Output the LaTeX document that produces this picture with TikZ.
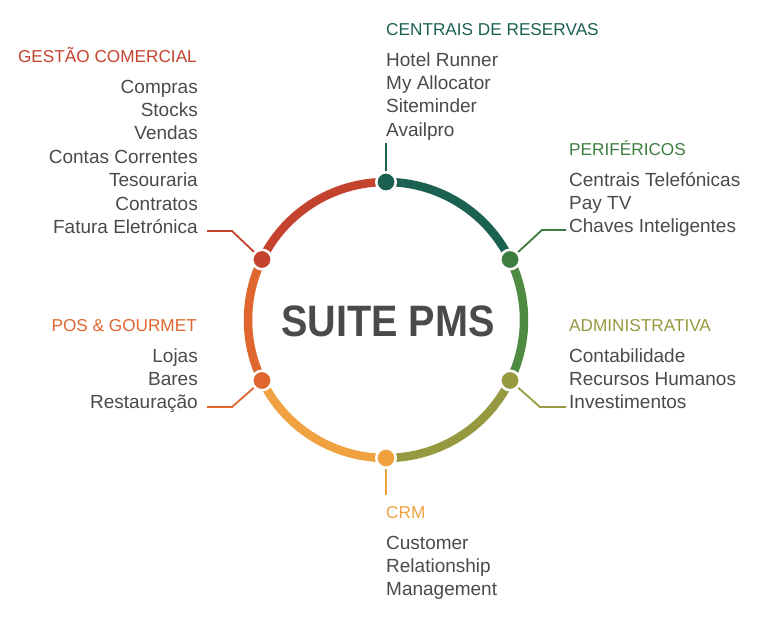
\documentclass[tikz,border=0pt]{standalone}
\usepackage{fontspec}
\usepackage{graphicx}
\setmainfont{Liberation Sans}
\definecolor{txt}{HTML}{4A4A4A}
\definecolor{cred}{HTML}{C4432F}
\definecolor{cteal}{HTML}{1B6152}
\definecolor{cgreen}{HTML}{3D7D40}
\definecolor{cgreenarc}{HTML}{4F8A42}
\definecolor{colive}{HTML}{96993F}
\definecolor{cyellow}{HTML}{EFA23F}
\definecolor{corange}{HTML}{E0662F}

\begin{document}
\begin{tikzpicture}[x=1pt,y=-1pt,
  ring/.style={line width=8.5pt},
  dot/.style={circle,minimum size=19.5pt,inner sep=0pt,draw=white,line width=2.5pt},
  lead/.style={line width=1.8pt},
  head/.style={inner sep=0pt,font=\fontsize{17.2}{20}\selectfont},
  item/.style={inner sep=0pt,font=\fontsize{19}{20}\selectfont,text=txt}]
\useasboundingbox (0,0) rectangle (763,616);
\coordinate (c) at (386,320);
% ring
\draw[ring,cteal] ([shift={(-90:138)}]c) arc[start angle=-90,end angle=-26,radius=138];
\draw[ring,cgreenarc] ([shift={(-26:138)}]c) arc[start angle=-26,end angle=26,radius=138];
\draw[ring,colive] ([shift={(26:138)}]c) arc[start angle=26,end angle=90,radius=138];
\draw[ring,cyellow] ([shift={(90:138)}]c) arc[start angle=90,end angle=154,radius=138];
\draw[ring,corange] ([shift={(154:138)}]c) arc[start angle=154,end angle=206,radius=138];
\draw[ring,cred] ([shift={(206:138)}]c) arc[start angle=206,end angle=270,radius=138];
% dots
\node[dot,fill=cteal] (dcr) at ([shift={(-90:138)}]c) {};
\node[dot,fill=cgreen] (dpe) at ([shift={(-26:138)}]c) {};
\node[dot,fill=colive] (dad) at ([shift={(26:138)}]c) {};
\node[dot,fill=cyellow] (dcrm) at ([shift={(90:138)}]c) {};
\node[dot,fill=corange] (dpos) at ([shift={(154:138)}]c) {};
\node[dot,fill=cred] (dgc) at ([shift={(206:138)}]c) {};
% title
\node[font=\fontsize{44}{48}\selectfont\bfseries,text=txt] (title) at (388,321) {\scalebox{0.9}[1]{SUITE PMS}};
% leads
\coordinate (ecr) at (386,143);
\coordinate (kpe) at (542,230); \coordinate (epe) at (566,230);
\coordinate (kad) at (540,407); \coordinate (ead) at (566,407);
\coordinate (ecrm) at (386,495);
\coordinate (kpos) at (232,407); \coordinate (epos) at (207,407);
\coordinate (kgc) at (232,231); \coordinate (egc) at (207,231);
\draw[lead,cteal] (dcr) -- (ecr);
\draw[lead,cgreen] (dpe) -- (kpe) -- (epe);
\draw[lead,colive] (dad) -- (kad) -- (ead);
\draw[lead,cyellow] (dcrm) -- (ecrm);
\draw[lead,corange] (dpos) -- (kpos) -- (epos);
\draw[lead,cred] (dgc) -- (kgc) -- (egc);
% gestao comercial
\node[head,text=cred,anchor=base east] (hgc) at (197,62) {GESTÃO COMERCIAL};
\foreach \t [count=\i] in {Compras,Stocks,Vendas,Contas Correntes,Tesouraria,Contratos,Fatura Eletrónica}
  \node[item,anchor=base east] (gc\i) at (198,{69.6+23.4*\i}) {\t};
% centrais de reservas
\node[head,text=cteal,anchor=base west] (hcr) at (386,35) {CENTRAIS DE RESERVAS};
\foreach \t [count=\i] in {Hotel Runner,My Allocator,Siteminder,Availpro}
  \node[item,anchor=base west] (cr\i) at (386,{42.6+23.4*\i}) {\t};
% perifericos
\node[head,text=cgreen,anchor=base west] (hpe) at (569,155) {PERIFÉRICOS};
\foreach \t [count=\i] in {Centrais Telefónicas,Pay TV,Chaves Inteligentes}
  \node[item,anchor=base west] (pe\i) at (569,{162.6+23.4*\i}) {\t};
% administrativa
\node[head,text=colive,anchor=base west] (had) at (569,331) {ADMINISTRATIVA};
\foreach \t [count=\i] in {Contabilidade,Recursos Humanos,Investimentos}
  \node[item,anchor=base west] (ad\i) at (569,{338.6+23.4*\i}) {\t};
% pos & gourmet
\node[head,text=corange,anchor=base east] (hpos) at (197,331) {POS \& GOURMET};
\foreach \t [count=\i] in {Lojas,Bares,Restauração}
  \node[item,anchor=base east] (pos\i) at (198,{338.6+23.4*\i}) {\t};
% crm
\node[head,text=cyellow,anchor=base west] (hcrm) at (386,518) {CRM};
\foreach \t [count=\i] in {Customer,Relationship,Management}
  \node[item,anchor=base west] (crm\i) at (386,{525.6+23.4*\i}) {\t};
\end{tikzpicture}
\end{document}
